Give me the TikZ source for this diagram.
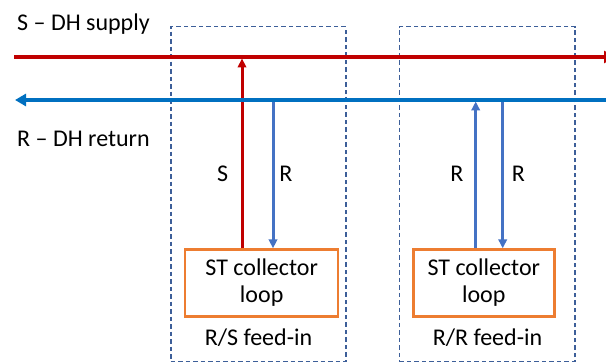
\documentclass[tikz,border=0pt]{standalone}
\usepackage{fontspec}
\setmainfont{Carlito}
\usetikzlibrary{arrows.meta}
\definecolor{sred}{HTML}{C00000}
\definecolor{rblue}{HTML}{0070C0}
\definecolor{vblue}{HTML}{4472C4}
\definecolor{dblue}{HTML}{3D5F99}
\definecolor{obox}{HTML}{ED7D31}
\begin{document}
\begin{tikzpicture}[x=1pt,y=-1pt,
  txt/.style={font=\fontsize{24}{28}\selectfont, inner sep=0pt, anchor=base},
  header/.style={line width=3.6pt},
  pipe/.style={line width=3pt},
  bigtip/.style={-{Triangle[length=11pt,width=12pt]}},
  smalltip/.style={-{Triangle[length=9pt,width=8.5pt]}},
  zone/.style={draw=dblue, dash pattern=on 4.5pt off 3pt, line width=1.6pt, inner sep=0pt},
  loopbox/.style={draw=obox, line width=2.4pt, align=center, inner sep=0pt,
    font=\fontsize{24}{27}\selectfont, minimum height=67pt}
]
\useasboundingbox (0,0) rectangle (606,363);
\clip (0,0) rectangle (606,363);

% zones
\node[zone, minimum width=175pt, minimum height=335pt] (z1) at (258.2,194.2) {};
\node[zone, minimum width=175.7pt, minimum height=335pt] (z2) at (487.2,194.2) {};

% collector loops
\node[loopbox, minimum width=153pt] (box1) at (261.7,283) {ST collector\\loop};
\node[loopbox, minimum width=141pt] (box2) at (483.8,283) {ST collector\\loop};

% header coordinates
\coordinate (supW) at (14,57);
\coordinate (supE) at (615,57);
\coordinate (retE) at (612,100);
\coordinate (retW) at (15,100);

% tap points
\coordinate (s1) at (242,58.5);
\coordinate (r1) at (273,100);
\coordinate (r2up) at (475.7,101.5);
\coordinate (r2dn) at (502.7,100);

% vertical pipes
\draw[pipe, sred, smalltip] (box1.north -| s1) -- (s1);
\draw[pipe, vblue, smalltip] (r1) -- (box1.north -| r1);
\draw[pipe, vblue, smalltip] (box2.north -| r2up) -- (r2up);
\draw[pipe, vblue, smalltip] (r2dn) -- (box2.north -| r2dn);

% headers
\draw[header, sred, bigtip] (supW) -- (supE);
\draw[header, rblue, bigtip] (retE) -- (retW);

% labels
\node[txt, anchor=base west] (lsup) at (17,31) {S – DH supply};
\node[txt, anchor=base west] (lret) at (17,147) {R – DH return};
\node[txt] (ls1) at (222.7,182) {S};
\node[txt] (lr1) at (286,182) {R};
\node[txt] (lr2a) at (457,182) {R};
\node[txt] (lr2b) at (518.5,182) {R};
\node[txt] (lz1) at (258.5,345.7) {R/S feed-in};
\node[txt] (lz2) at (487.5,345.7) {R/R feed-in};
\end{tikzpicture}
\end{document}
